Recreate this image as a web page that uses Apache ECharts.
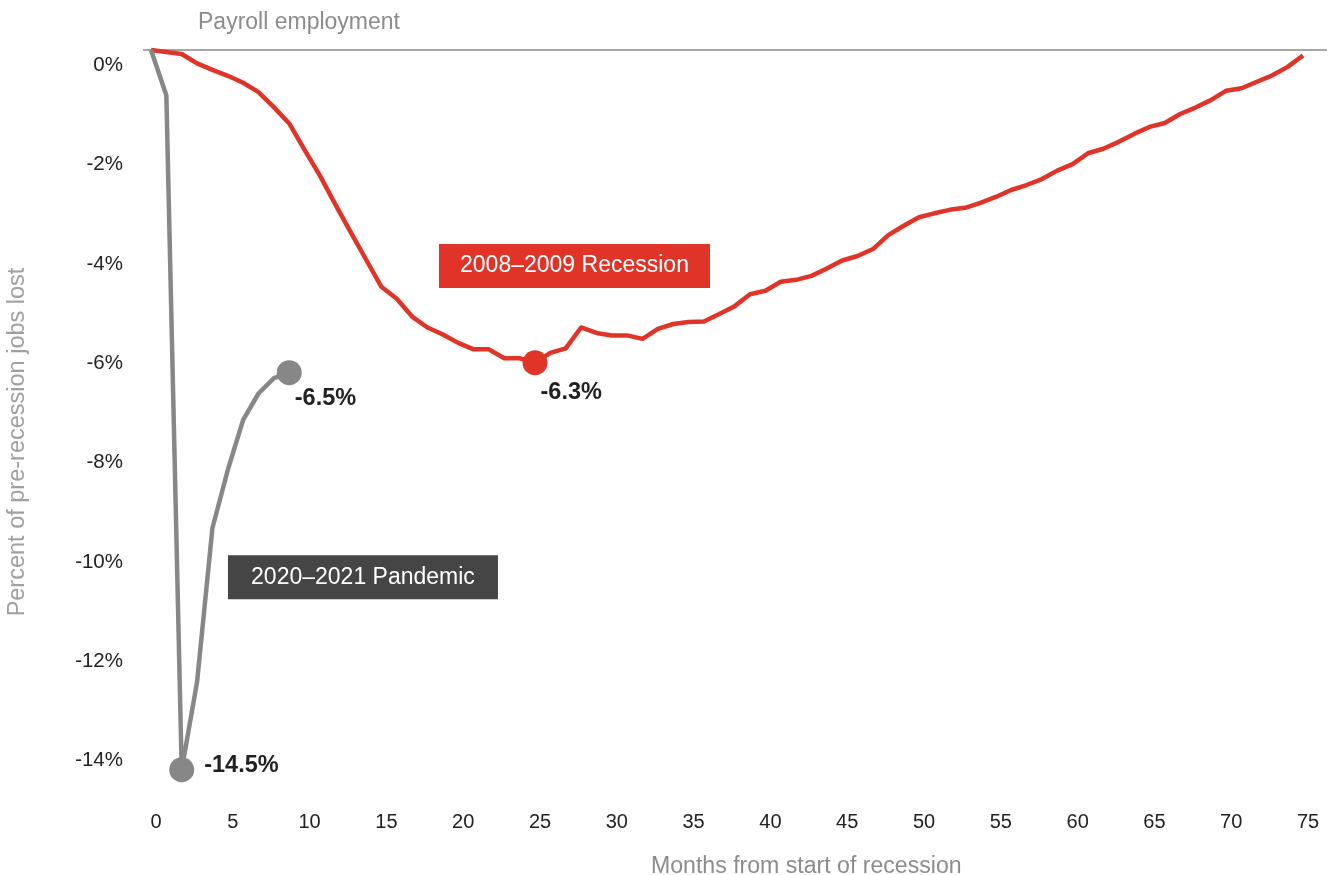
<!DOCTYPE html>
<html>
<head>
<meta charset="utf-8">
<script src="https://cdn.jsdelivr.net/npm/echarts@6/dist/echarts.min.js"></script>
<style>
  html, body { margin: 0; padding: 0; background: #ffffff; }
  #chart { width: 1330px; height: 875px; }
</style>
</head>
<body>
<div id="chart"></div>
<script>
// Payroll employment: percent of pre-recession jobs lost, by months from start of recession

// 2008–2009 recession, months 0..75
const recession2008 = [
  0, -0.04, -0.08, -0.27, -0.40, -0.52, -0.66, -0.85, -1.15, -1.48,
  -2.01, -2.53, -3.11, -3.67, -4.22, -4.77, -5.01, -5.37, -5.59, -5.73,
  -5.90, -6.03, -6.03, -6.21, -6.21, -6.3, -6.10, -6.01, -5.59, -5.70,
  -5.75, -5.75, -5.82, -5.62, -5.52, -5.48, -5.47, -5.32, -5.16, -4.92,
  -4.85, -4.67, -4.63, -4.55, -4.40, -4.24, -4.15, -4.01, -3.73, -3.54,
  -3.37, -3.29, -3.22, -3.18, -3.08, -2.96, -2.82, -2.72, -2.60, -2.43,
  -2.30, -2.08, -1.99, -1.85, -1.69, -1.55, -1.47, -1.29, -1.16, -1.01,
  -0.82, -0.77, -0.64, -0.51, -0.34, -0.11
];

// 2020–2021 pandemic, months 0..9
const pandemic2020 = [0, -0.91, -14.5, -12.73, -9.63, -8.46, -7.45, -6.92, -6.61, -6.5];

// highlighted points (month index)
const recessionTroughMonth = 25;
const pandemicTroughMonth = 2;
const pandemicLatestMonth = 9;

// axis ticks
const xTicks = [0, 5, 10, 15, 20, 25, 30, 35, 40, 45, 50, 55, 60, 65, 70, 75];
const yTicks = [0, -2, -4, -6, -8, -10, -12, -14];

// text
const chartTitle = 'Payroll employment';
const xTitle = 'Months from start of recession';
const yTitle = 'Percent of pre-recession jobs lost';
const recessionName = '2008–2009 Recession';
const pandemicName = '2020–2021 Pandemic';

const RED = '#e03428';
const GREY = '#878787';
const DARK = '#454545';
const FONT = '"Liberation Sans", Arial, Helvetica, sans-serif';

const toPairs = arr => arr.map((v, i) => [i, v]);

const chart = echarts.init(document.getElementById('chart'), null, { renderer: 'canvas' });

const valueLabel = (offset) => ({
  show: true,
  position: 'right',
  distance: 5,
  offset: offset,
  formatter: p => p.value[1] + '%',
  fontFamily: FONT,
  fontSize: 23.5,
  fontWeight: 'bold',
  color: '#222222',
  opacity: 1
});

chart.setOption({
  animation: false,
  backgroundColor: '#ffffff',
  textStyle: { fontFamily: FONT },
  title: [
    {
      text: chartTitle, left: 198, top: 11, padding: 0,
      textStyle: { fontFamily: FONT, fontSize: 23, fontWeight: 'normal', color: '#8c8c8c' }
    },
    {
      text: xTitle, left: 651, top: 855, padding: 0,
      textStyle: { fontFamily: FONT, fontSize: 23.1, fontWeight: 'normal', color: '#8c8c8c' }
    }
  ],
  graphic: [
    {
      type: 'text', x: 18, y: 442, rotation: Math.PI / 2,
      style: {
        text: yTitle, fill: '#a0a0a0', fontFamily: FONT, fontSize: 23.5,
        align: 'center', verticalAlign: 'middle'
      }
    }
  ],
  grid: { left: 143, right: 3, top: 50, bottom: 80.4, containLabel: false },
  xAxis: {
    type: 'value',
    min: -0.52,
    max: 76.56,
    axisLine: { show: false },
    axisTick: { show: false },
    splitLine: { show: false },
    axisLabel: {
      customValues: xTicks,
      fontFamily: FONT, fontSize: 20, color: '#222222',
      margin: 18,
      padding: [0, 0, 0, 10]
    }
  },
  yAxis: {
    type: 'value',
    min: -15,
    max: 0,
    axisLine: { show: false },
    axisTick: { show: false },
    splitLine: { show: false },
    axisLabel: {
      customValues: yTicks,
      formatter: v => v + '%',
      fontFamily: FONT, fontSize: 20.5, color: '#222222',
      margin: 20,
      verticalAlign: 'top',
      padding: [5, 0, 0, 0]
    }
  },
  series: [
    {
      name: recessionName,
      type: 'line',
      data: toPairs(recession2008),
      showSymbol: false,
      clip: false,
      lineStyle: { color: RED, width: 4.5, join: 'round' },
      itemStyle: { color: RED },
      z: 3,
      markLine: {
        silent: true,
        symbol: 'none',
        label: { show: false },
        lineStyle: { color: '#8a8a8a', width: 1.5, type: 'solid' },
        data: [{ yAxis: 0 }],
        z: 1
      },
      markPoint: {
        silent: true,
        symbol: 'rect',
        symbolSize: 1,
        itemStyle: { color: 'rgba(0,0,0,0)' },
        data: [
          {
            coord: [27.57, -4.35],
            label: {
              show: true, position: 'inside', formatter: recessionName,
              backgroundColor: RED, color: '#ffffff',
              fontFamily: FONT, fontSize: 23, lineHeight: 22,
              width: 227, align: 'center', padding: [11, 22]
            }
          },
          {
            coord: [13.8, -10.62],
            label: {
              show: true, position: 'inside', formatter: pandemicName,
              backgroundColor: DARK, color: '#ffffff',
              fontFamily: FONT, fontSize: 23, lineHeight: 22,
              width: 226, align: 'center', padding: [11, 22]
            }
          }
        ]
      }
    },
    {
      name: pandemicName,
      type: 'line',
      data: toPairs(pandemic2020),
      showSymbol: false,
      clip: false,
      lineStyle: { color: GREY, width: 4.5, join: 'round' },
      itemStyle: { color: GREY },
      z: 4
    },
    {
      type: 'scatter',
      symbol: 'circle',
      symbolSize: 25,
      itemStyle: { color: RED, opacity: 1 },
      z: 5,
      data: [
        {
          value: [recessionTroughMonth, recession2008[recessionTroughMonth]],
          label: valueLabel([-12, 30])
        }
      ]
    },
    {
      type: 'scatter',
      symbol: 'circle',
      symbolSize: 25,
      itemStyle: { color: GREY, opacity: 1 },
      z: 5,
      data: [
        {
          value: [pandemicTroughMonth, pandemic2020[pandemicTroughMonth]],
          label: valueLabel([5, -4])
        },
        {
          value: [pandemicLatestMonth, pandemic2020[pandemicLatestMonth]],
          label: valueLabel([-12, 26])
        }
      ]
    }
  ]
});
</script>
</body>
</html>
